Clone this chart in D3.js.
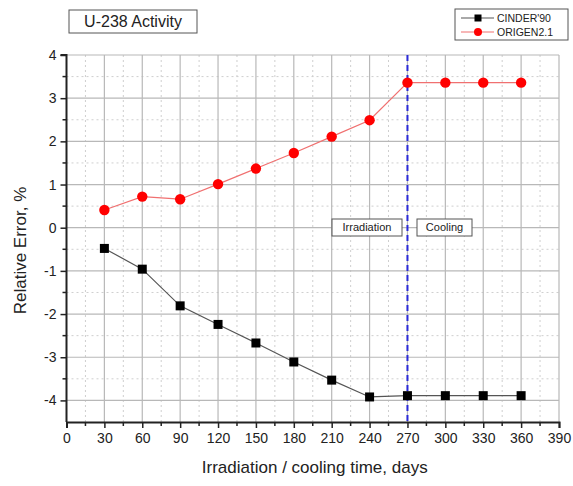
<!DOCTYPE html>
<html>
<head>
<meta charset="utf-8">
<script src="https://cdn.jsdelivr.net/npm/d3@7"></script>
<style>
  html, body { margin: 0; padding: 0; background: #fff; }
  svg { display: block; font-family: Arial, "Liberation Sans", sans-serif; }
</style>
</head>
<body>
<svg id="chart" width="573" height="486"></svg>
<script>
// Irradiation / cooling time in days
const days = [30, 60, 90, 120, 150, 180, 210, 240, 270, 300, 330, 360];
// Relative error (%) for each code
const cinder90 = [-0.48, -0.96, -1.81, -2.24, -2.67, -3.11, -3.53, -3.92, -3.89, -3.89, -3.89, -3.89];
const origen21 = [0.41, 0.72, 0.66, 1.01, 1.37, 1.73, 2.11, 2.49, 3.36, 3.36, 3.36, 3.36];
const xTicks = [0, 30, 60, 90, 120, 150, 180, 210, 240, 270, 300, 330, 360, 390];
const yTicks = [-4, -3, -2, -1, 0, 1, 2, 3, 4];
const seriesNames = ["CINDER'90", "ORIGEN2.1"];
const switchDay = 270;

const svg = d3.select("#chart");
const pLeft = 66.5, pRight = 559, pTop = 55, pBottom = 422;

const x = d3.scaleLinear().domain([0, 390]).range([pLeft, pRight]);
const y = d3.scaleLinear().domain([-4.5, 4]).range([pBottom, pTop]);

// grid: dotted minor lines, solid major lines
const grid = svg.append("g");
const minorX = d3.range(15, 390, 30);
const minorY = d3.range(-3.5, 4, 1);
grid.selectAll(".mx").data(minorX).enter().append("line")
  .attr("x1", d => x(d)).attr("x2", d => x(d)).attr("y1", pTop).attr("y2", pBottom)
  .attr("stroke", "#cfcfcf").attr("stroke-width", 1).attr("stroke-dasharray", "2,3");
grid.selectAll(".my").data(minorY).enter().append("line")
  .attr("x1", pLeft).attr("x2", pRight).attr("y1", d => y(d)).attr("y2", d => y(d))
  .attr("stroke", "#cfcfcf").attr("stroke-width", 1).attr("stroke-dasharray", "2,3");
grid.selectAll(".Mx").data(xTicks.filter(d => d > 0)).enter().append("line")
  .attr("x1", d => x(d)).attr("x2", d => x(d)).attr("y1", pTop).attr("y2", pBottom)
  .attr("stroke", "#b8b8b8").attr("stroke-width", 1.2);
grid.selectAll(".My").data(yTicks).enter().append("line")
  .attr("x1", pLeft).attr("x2", pRight).attr("y1", d => y(d)).attr("y2", d => y(d))
  .attr("stroke", "#b8b8b8").attr("stroke-width", 1.2);

// axes (plain hyphen for negative labels)
const fmt = d => String(d);
const xAxis = d3.axisBottom(x).tickValues(xTicks).tickSize(6).tickPadding(5).tickFormat(fmt);
const yAxis = d3.axisLeft(y).tickValues(yTicks).tickSize(6).tickPadding(4).tickFormat(fmt);

const gx = svg.append("g").attr("transform", `translate(0,${pBottom})`).call(xAxis);
const gy = svg.append("g").attr("transform", `translate(${pLeft},0)`).call(yAxis);

// minor ticks
svg.append("g").selectAll("line").data(minorX).enter().append("line")
  .attr("x1", d => x(d)).attr("x2", d => x(d)).attr("y1", pBottom).attr("y2", pBottom + 4)
  .attr("stroke", "#222").attr("stroke-width", 1.5);
svg.append("g").selectAll("line").data(minorY).enter().append("line")
  .attr("x1", pLeft - 4).attr("x2", pLeft).attr("y1", d => y(d)).attr("y2", d => y(d))
  .attr("stroke", "#222").attr("stroke-width", 1.5);

[gx, gy].forEach(g => {
  g.select(".domain").attr("stroke", "#222").attr("stroke-width", 2);
  g.selectAll(".tick line").attr("stroke", "#222").attr("stroke-width", 1.5);
  g.selectAll(".tick text").attr("fill", "#222").style("font-size", "14px")
    .style("font-family", "Arial, 'Liberation Sans', sans-serif");
});
gy.select(".domain").attr("d", `M${-6},${pTop}H0V${pBottom}`);

// phase divider
svg.append("line")
  .attr("x1", x(switchDay)).attr("x2", x(switchDay)).attr("y1", pTop).attr("y2", pBottom)
  .attr("stroke", "#2a2ad8").attr("stroke-width", 2).attr("stroke-dasharray", "6,4");

// series
const line = d3.line().x(d => x(d[0])).y(d => y(d[1]));
const cinderPts = days.map((d, i) => [d, cinder90[i]]);
const origenPts = days.map((d, i) => [d, origen21[i]]);

svg.append("path").datum(cinderPts).attr("d", line)
  .attr("fill", "none").attr("stroke", "#555").attr("stroke-width", 1.2);
svg.append("path").datum(origenPts).attr("d", line)
  .attr("fill", "none").attr("stroke", "#f07070").attr("stroke-width", 1.2);

svg.append("g").selectAll("rect").data(cinderPts).enter().append("rect")
  .attr("x", d => x(d[0]) - 4.5).attr("y", d => y(d[1]) - 4.5)
  .attr("width", 9).attr("height", 9).attr("fill", "#000");
svg.append("g").selectAll("circle").data(origenPts).enter().append("circle")
  .attr("cx", d => x(d[0])).attr("cy", d => y(d[1])).attr("r", 5.2).attr("fill", "#f00");

// boxed text labels
function boxLabel(bx, by, w, h, txt, size) {
  svg.append("rect").attr("x", bx).attr("y", by).attr("width", w).attr("height", h)
    .attr("fill", "#fff").attr("stroke", "#555").attr("stroke-width", 1);
  svg.append("text").attr("x", bx + w / 2).attr("y", by + h / 2).attr("dy", "0.35em")
    .attr("text-anchor", "middle").style("font-size", size + "px").attr("fill", "#222").text(txt);
}
boxLabel(332, 219, 70, 17, "Irradiation", 11);
boxLabel(417, 219, 55, 17, "Cooling", 11);

// title
boxLabel(69, 10, 128, 23, "U-238 Activity", 16);

// legend
svg.append("rect").attr("x", 455).attr("y", 9).attr("width", 113).attr("height", 31)
  .attr("fill", "#fff").attr("stroke", "#555").attr("stroke-width", 1);
const legRows = [
  { name: seriesNames[0], color: "#000", lineColor: "#555", shape: "square", yy: 18 },
  { name: seriesNames[1], color: "#f00", lineColor: "#f07070", shape: "circle", yy: 32 }
];
legRows.forEach(r => {
  svg.append("line").attr("x1", 461).attr("x2", 494).attr("y1", r.yy).attr("y2", r.yy)
    .attr("stroke", r.lineColor).attr("stroke-width", 1.2);
  if (r.shape === "square") {
    svg.append("rect").attr("x", 478 - 3.5).attr("y", r.yy - 3.5).attr("width", 7).attr("height", 7).attr("fill", r.color);
  } else {
    svg.append("circle").attr("cx", 478).attr("cy", r.yy).attr("r", 4).attr("fill", r.color);
  }
  svg.append("text").attr("x", 497).attr("y", r.yy).attr("dy", "0.35em")
    .style("font-size", "10.5px").attr("fill", "#222").text(r.name);
});

// axis titles
svg.append("text").attr("x", (pLeft + pRight) / 2 + 2).attr("y", 467).attr("dy", "0.35em")
  .attr("text-anchor", "middle").style("font-size", "17px").attr("fill", "#222")
  .text("Irradiation / cooling time, days");
svg.append("text").attr("transform", `translate(20,${(pTop + pBottom) / 2 + 12}) rotate(-90)`)
  .attr("dy", "0.35em").attr("text-anchor", "middle").style("font-size", "17px").attr("fill", "#222")
  .text("Relative Error, %");
</script>
</body>
</html>
